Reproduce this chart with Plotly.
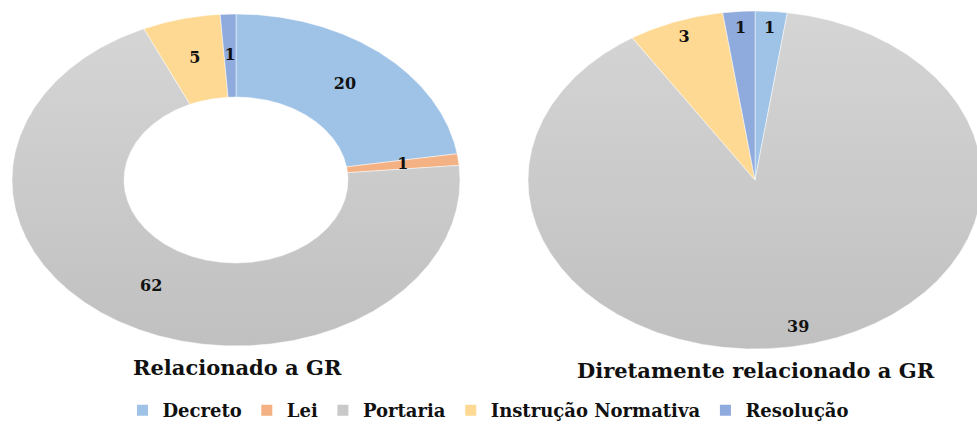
import numpy as np
import plotly.graph_objects as go

categories = ["Decreto", "Lei", "Portaria", "Instrução Normativa", "Resolução"]
colors = ["#9fc3e7", "#f4b183", "#c9c9c9", "#fed993", "#8faadc"]
values_rel = [20, 1, 62, 5, 1]
values_dir = [1, 0, 39, 3, 1]
titles = ["Relacionado a GR", "Diretamente relacionado a GR"]

W, H = 977, 429
FONT = "DejaVu Serif"

# pixel geometry of each (horizontally stretched) pie
charts = [
    dict(values=values_rel, cx=236, cy=180, rx=224, ry=166, hole=0.5, lr=0.75,
         dom=(0.0, 0.5), ax="", title=titles[0], tx=237, ty=367),
    dict(values=values_dir, cx=755, cy=180, rx=227, ry=169, hole=0.0, lr=0.895,
         dom=(0.5, 1.0), ax="2", title=titles[1], tx=756, ty=370),
]


def wedge(a0, a1, hole):
    n = max(int(abs(a1 - a0) / 0.4), 3)
    t = np.radians(np.linspace(a0, a1, n))
    xo, yo = np.cos(t), np.sin(t)
    if hole > 0:
        xi, yi = hole * np.cos(t[::-1]), hole * np.sin(t[::-1])
    else:
        xi, yi = np.array([0.0]), np.array([0.0])
    x = np.concatenate([xo, xi, xo[:1]])
    y = np.concatenate([yo, yi, yo[:1]])
    return x, y


fig = go.Figure()
layout_axes = {}
annotations = []

for ch in charts:
    vals = ch["values"]
    total = float(sum(vals))
    xa, ya = "x" + ch["ax"], "y" + ch["ax"]
    cum = 0.0
    lx, ly, lt = [], [], []
    for cat, col, v in zip(categories, colors, vals):
        if v <= 0:
            continue
        a0 = 90 - cum / total * 360
        a1 = 90 - (cum + v) / total * 360
        cum += v
        x, y = wedge(a0, a1, ch["hole"])
        kw = {}
        if cat == "Portaria":
            kw["fillgradient"] = dict(type="vertical",
                                      colorscale=[[0, "#c0c0c0"], [1, "#d5d5d5"]])
        else:
            kw["fillcolor"] = col
        fig.add_trace(go.Scatter(x=x, y=y, xaxis=xa, yaxis=ya, mode="lines",
                                 fill="toself", line=dict(color="rgba(255,255,255,0.6)", width=0.8),
                                 showlegend=False, hoverinfo="skip", **kw))
        am = np.radians((a0 + a1) / 2)
        lx.append(ch["lr"] * np.cos(am))
        ly.append(ch["lr"] * np.sin(am))
        lt.append(str(v))
    fig.add_trace(go.Scatter(x=lx, y=ly, xaxis=xa, yaxis=ya, mode="text", text=lt,
                             textfont=dict(family=FONT, size=16, color="#111111", weight="bold"),
                             showlegend=False, hoverinfo="skip"))
    d0, d1 = ch["dom"]
    xr = [(d0 * W - ch["cx"]) / ch["rx"], (d1 * W - ch["cx"]) / ch["rx"]]
    yr = [-(H - ch["cy"]) / ch["ry"], ch["cy"] / ch["ry"]]
    axname = "xaxis" + ch["ax"]
    ayname = "yaxis" + ch["ax"]
    layout_axes[axname] = dict(domain=[d0, d1], range=xr, visible=False, fixedrange=True,
                               anchor=ya)
    layout_axes[ayname] = dict(domain=[0, 1], range=yr, visible=False, fixedrange=True,
                               anchor=xa)
    annotations.append(dict(x=ch["tx"] / W, y=1 - ch["ty"] / H, xref="paper", yref="paper",
                            text=ch["title"], showarrow=False, xanchor="center", yanchor="middle",
                            font=dict(family=FONT, size=21, color="#111111", weight="bold")))

# legend entries
for cat, col in zip(categories, colors):
    fig.add_trace(go.Scatter(x=[None], y=[None], mode="markers", name=cat,
                             marker=dict(symbol="square", size=11, color=col),
                             showlegend=True))

fig.update_layout(
    width=W, height=H, margin=dict(l=0, r=0, t=0, b=0),
    paper_bgcolor="white", plot_bgcolor="white",
    annotations=annotations,
    legend=dict(orientation="h", x=0.5, xanchor="center", y=0, yanchor="bottom",
                font=dict(family=FONT, size=18, color="#111111", weight="bold"),
                itemwidth=30, tracegroupgap=0, bgcolor="rgba(0,0,0,0)"),
    **layout_axes,
)

fig.write_html("out.html")
